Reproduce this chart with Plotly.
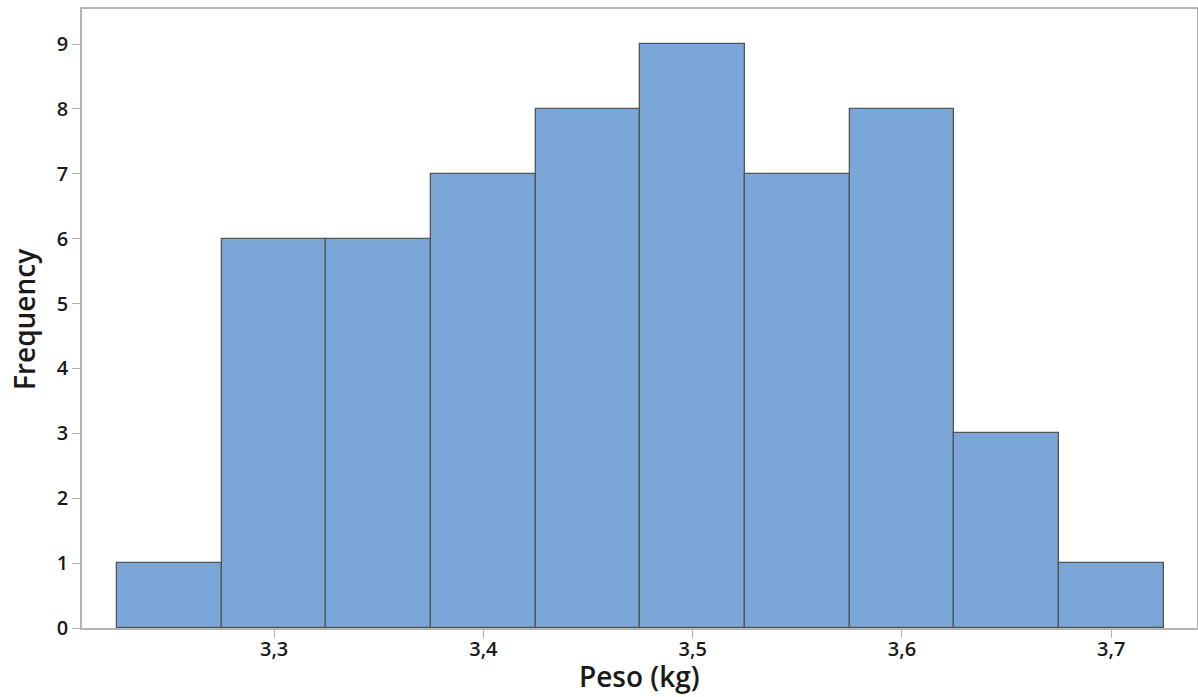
import plotly.graph_objects as go

bin_centers = [3.25, 3.30, 3.35, 3.40, 3.45, 3.50, 3.55, 3.60, 3.65, 3.70]
frequencies = [1, 6, 6, 7, 8, 9, 7, 8, 3, 1]
bin_width = 0.05
x_ticks = [3.3, 3.4, 3.5, 3.6, 3.7]
x_tick_labels = ["3,3", "3,4", "3,5", "3,6", "3,7"]
y_ticks = list(range(0, 10))

fig = go.Figure()
fig.add_trace(go.Bar(
    x=bin_centers, y=frequencies, width=[bin_width] * len(bin_centers),
    marker=dict(color="#7BA6D8", line=dict(color="#555555", width=1.3)),
    hoverinfo="x+y",
))

font_family = "Open Sans, Noto Sans, sans-serif"
tick_font = dict(size=20, family=font_family, weight=600, color="#1a1a1a")
title_font = dict(size=28, family=font_family, weight=600, color="#1a1a1a")
fig.update_layout(
    width=1198, height=697,
    margin=dict(l=82, r=1, t=9, b=69),
    plot_bgcolor="white", paper_bgcolor="white",
    showlegend=False, bargap=0,
    font=dict(family=font_family, color="#1a1a1a"),
    xaxis=dict(
        range=[3.2082, 3.741], tickvals=x_ticks, ticktext=x_tick_labels,
        ticks="outside", ticklen=8, tickcolor="#b0b0b0", tickwidth=1,
        showline=True, linecolor="#b4b4b4", linewidth=1.5, mirror=True,
        showgrid=False, zeroline=False, automargin=False,
        tickfont=tick_font, ticklabelstandoff=-6,
    ),
    yaxis=dict(
        range=[0, 9.54], tickvals=y_ticks,
        ticks="outside", ticklen=8, tickcolor="#b0b0b0", tickwidth=1,
        showline=True, linecolor="#b4b4b4", linewidth=1.5, mirror=True,
        showgrid=False, zeroline=False, automargin=False,
        tickfont=tick_font,
    ),
    annotations=[
        dict(text="Peso (kg)", xref="paper", yref="paper", x=0.5, y=-0.0775,
             xanchor="center", yanchor="middle", showarrow=False, font=title_font),
        dict(text="Frequency", xref="paper", yref="paper", x=-0.052, y=0.4976,
             xanchor="center", yanchor="middle", showarrow=False, textangle=-90,
             font=title_font),
    ],
)

fig.write_html(
    "out.html",
    config={"displayModeBar": False},
    post_script="document.body.style.margin='0';document.body.style.overflow='hidden';",
)
